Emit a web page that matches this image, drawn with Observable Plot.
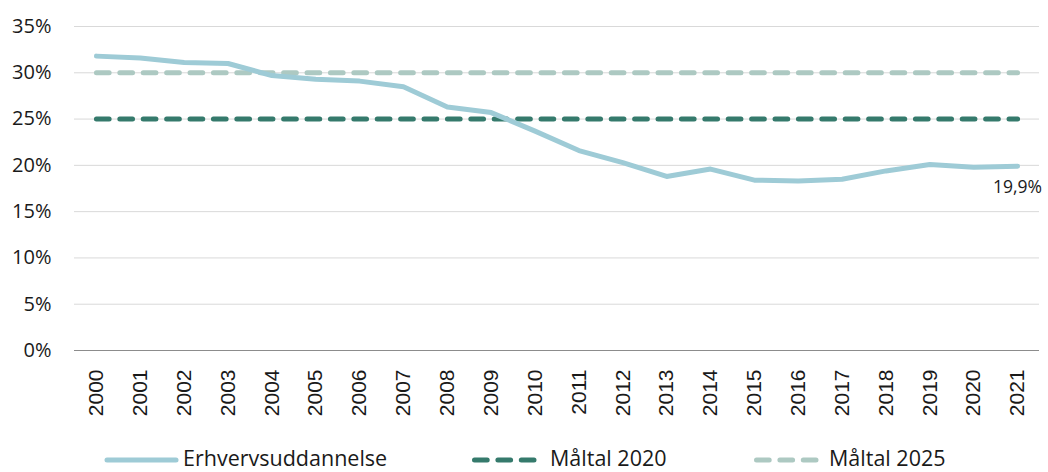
<!DOCTYPE html>
<html>
<head>
<meta charset="utf-8">
<script src="https://cdn.jsdelivr.net/npm/d3@7"></script>
<script src="https://cdn.jsdelivr.net/npm/@observablehq/plot@0.6"></script>
<style>
  html, body { margin: 0; padding: 0; background: #fff; }
  #chart svg { display: block; }
  #legend { display: block; }
</style>
</head>
<body>
<div id="chart"></div>
<svg id="legend" width="1048" height="32"></svg>
<script>
const years = ["2000","2001","2002","2003","2004","2005","2006","2007","2008","2009","2010",
               "2011","2012","2013","2014","2015","2016","2017","2018","2019","2020","2021"];
const erhvervsuddannelse = [31.8,31.6,31.1,31.0,29.7,29.3,29.1,28.5,26.3,25.7,23.7,
                            21.6,20.3,18.8,19.6,18.4,18.3,18.5,19.4,20.1,19.8,19.9];
const maaltal2020 = [25,25,25,25,25,25,25,25,25,25,25,25,25,25,25,25,25,25,25,25,25,25];
const maaltal2025 = [30,30,30,30,30,30,30,30,30,30,30,30,30,30,30,30,30,30,30,30,30,30];
const yTicks = [0,5,10,15,20,25,30,35];
const lastLabel = "19,9%";

const seriesNames = ["Erhvervsuddannelse", "Måltal 2020", "Måltal 2025"];
const colors = { line: "#9ecbd6", m2020: "#357a6c", m2025: "#adc9c2" };

const rows = years.map((year, i) => ({
  year,
  erhverv: erhvervsuddannelse[i],
  m2020: maaltal2020[i],
  m2025: maaltal2025[i]
}));
const last = rows[rows.length - 1];

const font = "'Open Sans', sans-serif";

const chart = Plot.plot({
  width: 1048,
  height: 440,
  marginTop: 26,
  marginBottom: 90,
  marginLeft: 74,
  marginRight: 9,
  style: { fontFamily: font, color: "#1a1a1a", background: "#fff" },
  x: { type: "point", domain: years, padding: 0.5, round: false },
  y: { domain: [0, 35] },
  marks: [
    Plot.ruleY(yTicks.filter(d => d > 0), { stroke: "#d9d9d9", strokeWidth: 1 }),
    Plot.ruleY([0], { stroke: "#8c8c8c", strokeWidth: 1.2 }),
    Plot.axisY({
      ticks: yTicks, tickSize: 0, tickPadding: 23, fontSize: 20,
      tickFormat: d => d + "%", label: null, fill: "#1a1a1a"
    }),
    Plot.axisX({
      tickRotate: -90, tickSize: 0, tickPadding: 19, fontSize: 21,
      fontFamily: "'Liberation Sans', Arial, sans-serif", label: null, fill: "#1a1a1a"
    }),
    Plot.line(rows, {
      x: "year", y: "m2025", stroke: colors.m2025, strokeWidth: 5,
      strokeDasharray: "12.7,10.7", strokeLinecap: "round"
    }),
    Plot.line(rows, {
      x: "year", y: "m2020", stroke: colors.m2020, strokeWidth: 5,
      strokeDasharray: "12.7,10.7", strokeLinecap: "round"
    }),
    Plot.line(rows, {
      x: "year", y: "erhverv", stroke: colors.line, strokeWidth: 5,
      strokeLinecap: "round", strokeLinejoin: "round"
    }),
    Plot.text([last], {
      x: "year", y: "erhverv", text: () => lastLabel, dy: 21, fontSize: 17.5,
      fill: "#1a1a1a", textAnchor: "middle"
    })
  ]
});
document.getElementById("chart").appendChild(chart);

// Legend below the chart
const legend = d3.select("#legend");
const items = [
  { name: seriesNames[0], color: colors.line, dash: null, x1: 107, x2: 176, tx: 183 },
  { name: seriesNames[1], color: colors.m2020, dash: "12.7,10.7", x1: 474.5, x2: 534.5, tx: 550 },
  { name: seriesNames[2], color: colors.m2025, dash: "12.7,10.7", x1: 756.5, x2: 816.5, tx: 829 }
];
items.forEach(it => {
  legend.append("line")
    .attr("x1", it.x1).attr("x2", it.x2).attr("y1", 20).attr("y2", 20)
    .attr("stroke", it.color).attr("stroke-width", 5).attr("stroke-linecap", "round")
    .attr("stroke-dasharray", it.dash);
  legend.append("text")
    .attr("x", it.tx).attr("y", 26)
    .attr("font-family", font).attr("font-size", 21.5).attr("fill", "#1a1a1a")
    .text(it.name);
});
</script>
</body>
</html>
